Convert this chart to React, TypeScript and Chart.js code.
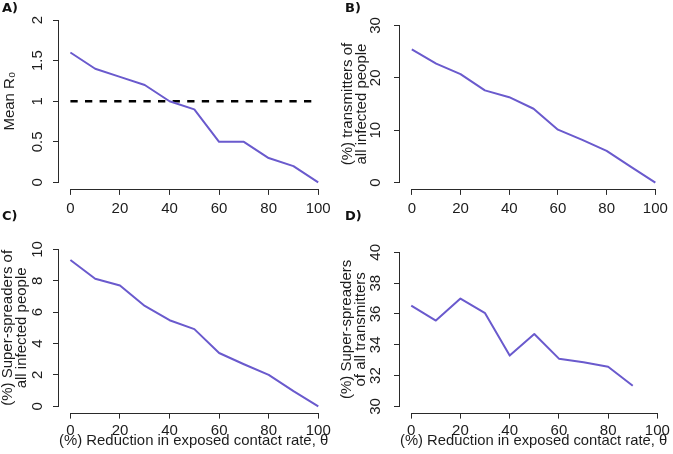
import React, { useEffect, useRef } from "react";
import { Chart, registerables } from "chart.js";

Chart.register(...registerables);

// ---------------- data ----------------
const theta = [0, 10, 20, 30, 40, 50, 60, 70, 80, 90, 100];
const thetaD = [0, 10, 20, 30, 40, 50, 60, 70, 80, 90];
const meanR0 = [1.6, 1.4, 1.3, 1.2, 1.0, 0.9, 0.5, 0.5, 0.3, 0.2, 0.0];
const thresholdX = [0, 100];
const thresholdR0 = [1, 1];
const transmittersPct = [25.45, 22.7, 20.7, 17.6, 16.3, 14.1, 10.1, 8.15, 6.05, 3.0, 0.0];
const superOfInfectedPct = [9.33, 8.13, 7.7, 6.4, 5.49, 4.92, 3.4, 2.68, 2.0, 0.97, 0.0];
const superOfTransmittersPct = [36.54, 35.57, 37.0, 36.05, 33.3, 34.7, 33.1, 32.87, 32.58, 31.34];

const xTicks = [0, 20, 40, 60, 80, 100];
const yTicksA = [0, 0.5, 1, 1.5, 2];
const yTicksB = [0, 10, 20, 30];
const yTicksC = [0, 2, 4, 6, 8, 10];
const yTicksD = [30, 32, 34, 36, 38, 40];

const xTitle = "(%) Reduction in exposed contact rate, θ";
const yTitleA = "Mean R₀";
const yTitleB = ["(%) transmitters of", "all infected people"];
const yTitleC = ["(%) Super-spreaders of", "all infected people"];
const yTitleD = ["(%) Super-spreaders", "of all transmitters"];

// ---------------- styles ----------------
const FONT_FAMILY = '"Liberation Sans", Arial, Helvetica, sans-serif';
const FONT_SIZE = 15;
const AXIS_COLOR = "#2a2a2a";
const TEXT_COLOR = "#1c1c1c";
const LINE_COLOR = "#6A5ACD";
const TICK_LEN = 6;

type Series = { x: number[]; y: number[]; dashed?: boolean };
type Panel = {
  id: string;
  label: string;
  left: number;
  top: number;
  width: number;
  height: number;
  area: { left: number; top: number; right: number; bottom: number };
  xMin: number;
  xMax: number;
  yMin: number;
  yMax: number;
  yTicks: number[];
  yTitle: string | string[];
  xTitle: string | null;
  yLabelCenter: number;
  yTitlePad: number;
  xTitlePad: number;
  xTickPad: number;
  labelPos: { x: number; y: number };
  series: Series[];
};

const panels: Panel[] = [
  {
    id: "A", label: "A)", left: 0, top: 0, width: 336, height: 227,
    area: { left: 59, top: 10.7, right: 328.2, bottom: 188.9 },
    xMin: -4.6, xMax: 104, yMin: -0.08, yMax: 2.08, yTicks: yTicksA,
    yTitle: yTitleA, xTitle: null, yLabelCenter: 38, yTitlePad: 3, xTitlePad: 9, xTickPad: 5,
    labelPos: { x: 2, y: 0.5 },
    series: [
      { x: theta, y: meanR0 },
      { x: thresholdX, y: thresholdR0, dashed: true },
    ],
  },
  {
    id: "B", label: "B)", left: 336, top: 0, width: 337, height: 227,
    area: { left: 64, top: 10.7, right: 333.2, bottom: 188.9 },
    xMin: -4.85, xMax: 104, yMin: -1.2, yMax: 31.2, yTicks: yTicksB,
    yTitle: yTitleB, xTitle: null, yLabelCenter: 39.5, yTitlePad: 4.5, xTitlePad: 9, xTickPad: 5,
    labelPos: { x: 9, y: 0.5 },
    series: [{ x: theta, y: transmittersPct }],
  },
  {
    id: "C", label: "C)", left: 0, top: 227, width: 336, height: 227,
    area: { left: 59, top: 8.44, right: 328.2, bottom: 185.6 },
    xMin: -4.6, xMax: 104, yMin: -0.4, yMax: 10.4, yTicks: yTicksC,
    yTitle: yTitleC, xTitle: xTitle, yLabelCenter: 37.5, yTitlePad: 0.5, xTitlePad: 6.5, xTickPad: 3,
    labelPos: { x: 2, y: -18 },
    series: [{ x: theta, y: superOfInfectedPct }],
  },
  {
    id: "D", label: "D)", left: 336, top: 227, width: 337, height: 227,
    area: { left: 64, top: 8.44, right: 333.2, bottom: 185.6 },
    xMin: -4.57, xMax: 104, yMin: 29.6, yMax: 40.4, yTicks: yTicksD,
    yTitle: yTitleD, xTitle: xTitle, yLabelCenter: 39.5, yTitlePad: 3.5, xTitlePad: 6.5, xTickPad: 3,
    labelPos: { x: 9, y: -18 },
    series: [{ x: thetaD, y: superOfTransmittersPct }],
  },
];

// R-style detached axis lines: from first to last tick
const rAxisPlugin = {
  id: "rAxis",
  afterDraw(chart: any) {
    const { ctx, scales } = chart;
    const xs = scales.x;
    const ys = scales.y;
    ctx.save();
    ctx.strokeStyle = AXIS_COLOR;
    ctx.lineWidth = 1;
    const xt = xs.ticks;
    const xa = xs.getPixelForValue(xt[0].value);
    const xb = xs.getPixelForValue(xt[xt.length - 1].value);
    const yLine = Math.round(xs.top) + 0.5;
    ctx.beginPath();
    ctx.moveTo(Math.round(xa - 0.5), yLine);
    ctx.lineTo(Math.round(xb - 0.5) + 1, yLine);
    ctx.stroke();
    const yt = ys.ticks;
    const ya = ys.getPixelForValue(yt[0].value);
    const yb = ys.getPixelForValue(yt[yt.length - 1].value);
    const xLine = Math.round(ys.right) - 0.5;
    ctx.beginPath();
    ctx.moveTo(xLine, Math.round(ya - 0.5) + 1);
    ctx.lineTo(xLine, Math.round(yb - 0.5));
    ctx.stroke();
    ctx.restore();
  },
};

const fmt = (v: number) => String(v);

function PanelChart({ p }: { p: Panel }) {
  const ref = useRef<HTMLCanvasElement>(null);
  useEffect(() => {
    const canvas = ref.current;
    if (!canvas) return;
    const measure = document.createElement("canvas").getContext("2d")!;
    measure.font = `${FONT_SIZE}px ${FONT_FAMILY}`;
    const widest = Math.max(...p.yTicks.map((v) => measure.measureText(fmt(v)).width));
    const yPad = p.area.left - p.yLabelCenter - TICK_LEN - widest / 2;
    const font = { family: FONT_FAMILY, size: FONT_SIZE };

    const chart = new Chart(canvas, {
      type: "line",
      data: {
        datasets: p.series.map((s) => ({
          data: s.x.map((xv, i) => ({ x: xv, y: s.y[i] })),
          borderColor: s.dashed ? "#000000" : LINE_COLOR,
          borderWidth: s.dashed ? 2.7 : 2,
          borderDash: s.dashed ? [7.3, 7.3] : [],
          borderCapStyle: "butt",
          borderJoinStyle: "round",
          pointRadius: 0,
          tension: 0,
          fill: false,
        })),
      },
      options: {
        responsive: false,
        animation: false,
        devicePixelRatio: 1,
        events: [],
        layout: {
          padding: { left: 0, top: p.area.top, right: p.width - p.area.right, bottom: 0 },
        },
        plugins: { legend: { display: false }, tooltip: { enabled: false } },
        scales: {
          x: {
            type: "linear",
            position: "bottom",
            min: p.xMin,
            max: p.xMax,
            afterBuildTicks: (s: any) => {
              s.ticks = xTicks.map((v) => ({ value: v }));
            },
            afterFit: (s: any) => {
              s.height = p.height - p.area.bottom;
            },
            grid: {
              display: true,
              drawOnChartArea: false,
              drawTicks: true,
              tickLength: TICK_LEN,
              color: AXIS_COLOR,
              lineWidth: 1,
            },
            border: { display: false },
            ticks: {
              autoSkip: false,
              minRotation: 0,
              maxRotation: 0,
              padding: p.xTickPad,
              color: TEXT_COLOR,
              font,
              callback: (v: any) => fmt(Number(v)),
            },
            title: p.xTitle
              ? {
                  display: true,
                  text: p.xTitle,
                  color: TEXT_COLOR,
                  font: { family: FONT_FAMILY, size: FONT_SIZE, lineHeight: 0.94 },
                  padding: { top: 0, bottom: p.xTitlePad },
                }
              : { display: false },
          },
          y: {
            type: "linear",
            position: "left",
            min: p.yMin,
            max: p.yMax,
            afterBuildTicks: (s: any) => {
              s.ticks = p.yTicks.map((v) => ({ value: v }));
            },
            afterFit: (s: any) => {
              s.width = p.area.left;
            },
            grid: {
              display: true,
              drawOnChartArea: false,
              drawTicks: true,
              tickLength: TICK_LEN,
              color: AXIS_COLOR,
              lineWidth: 1,
            },
            border: { display: false },
            ticks: {
              autoSkip: false,
              minRotation: 90,
              maxRotation: 90,
              crossAlign: "center",
              padding: yPad,
              color: TEXT_COLOR,
              font,
              callback: (v: any) => fmt(Number(v)),
            },
            title: {
              display: true,
              text: p.yTitle,
              color: TEXT_COLOR,
              font: { family: FONT_FAMILY, size: FONT_SIZE, lineHeight: 0.94 },
              padding: { top: p.yTitlePad, bottom: 0 },
            },
          },
        },
      } as any,
      plugins: [rAxisPlugin],
    });
    return () => chart.destroy();
  }, [p]);

  return (
    <canvas
      ref={ref}
      width={p.width}
      height={p.height}
      style={{ position: "absolute", left: p.left, top: p.top, width: p.width, height: p.height }}
    />
  );
}

export default function App() {
  return (
    <div
      style={{
        position: "absolute",
        left: 0,
        top: 0,
        width: 673,
        height: 454,
        background: "#ffffff",
        overflow: "hidden",
      }}
    >
      {panels.map((p) => (
        <PanelChart key={p.id} p={p} />
      ))}
      {panels.map((p) => (
        <div
          key={p.id + "-label"}
          style={{
            position: "absolute",
            left: p.left + p.labelPos.x,
            top: p.top + p.labelPos.y,
            font: 'bold 13px "DejaVu Sans", sans-serif',
            lineHeight: "13px",
            color: "#111",
            whiteSpace: "nowrap",
          }}
        >
          {p.label}
        </div>
      ))}
    </div>
  );
}
